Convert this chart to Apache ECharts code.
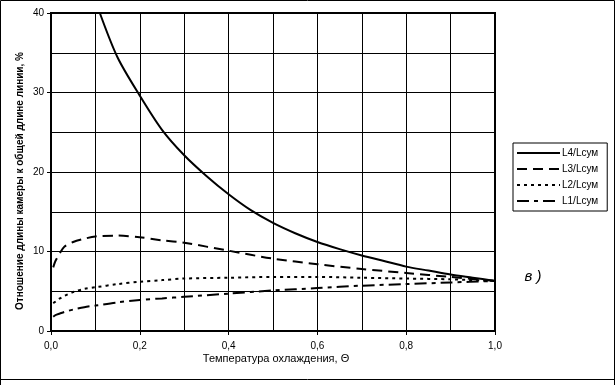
<!DOCTYPE html>
<html>
<head>
<meta charset="utf-8">
<script src="https://cdn.jsdelivr.net/npm/echarts@6/dist/echarts.min.js"></script>
<style>
html,body{margin:0;padding:0;background:#fff;}
#chart{width:616px;height:385px;}
</style>
</head>
<body>
<div id="chart"></div>
<script>
// ---- data ----
const seriesNames = ['L4/Lсум', 'L3/Lсум', 'L2/Lсум', 'L1/Lсум'];
const thetaL4 = [0.11, 0.15, 0.2, 0.25, 0.3, 0.35, 0.4, 0.45, 0.5, 0.55, 0.6, 0.65, 0.7, 0.75, 0.8, 0.85, 0.9, 0.95, 1.0];
const valuesL4 = [40, 34.4, 29.6, 25.3, 22.1, 19.5, 17.2, 15.2, 13.6, 12.3, 11.2, 10.3, 9.5, 8.8, 8.1, 7.6, 7.1, 6.7, 6.3];
const theta = [0.005, 0.01, 0.02, 0.03, 0.05, 0.075, 0.1, 0.15, 0.2, 0.25, 0.3, 0.4, 0.5, 0.6, 0.7, 0.8, 0.9, 1.0];
const valuesL3 = [8.0, 8.8, 9.8, 10.6, 11.2, 11.6, 11.9, 12.0, 11.8, 11.4, 11.1, 10.1, 9.1, 8.4, 7.8, 7.3, 6.8, 6.3];
const valuesL2 = [3.5, 3.7, 4.1, 4.4, 4.9, 5.3, 5.5, 5.9, 6.2, 6.4, 6.6, 6.7, 6.8, 6.8, 6.7, 6.6, 6.5, 6.3];
const valuesL1 = [1.8, 2.0, 2.2, 2.4, 2.7, 3.0, 3.2, 3.6, 3.9, 4.1, 4.3, 4.7, 5.1, 5.4, 5.7, 5.9, 6.1, 6.3];
const xTickLabels = ['0,0', '0,2', '0,4', '0,6', '0,8', '1,0'];
const yTickLabels = ['0', '10', '20', '30', '40'];
const xTitle = 'Температура охлаждения, Θ';
const yTitle = 'Отношение длины камеры к общей длине линии, %';
const panelLabel = 'в )';

const pairs = (xs, ys) => xs.map((x, i) => [x, ys[i]]);
const FONT = '"Liberation Sans", Arial, sans-serif';

const chart = echarts.init(document.getElementById('chart'), null, {renderer: 'canvas'});
const dashTypes = ['solid', [10, 6], [3, 4], [12, 5, 4, 5]];
const dataSets = [pairs(thetaL4, valuesL4), pairs(theta, valuesL3), pairs(theta, valuesL2), pairs(theta, valuesL1)];

chart.setOption({
  backgroundColor: '#fff',
  animation: false,
  grid: {left: 51, right: 121, top: 13, bottom: 54, show: true, borderColor: '#000', borderWidth: 2, containLabel: false},
  xAxis: {
    type: 'value', min: 0, max: 1, interval: 0.2,
    axisLine: {show: true, lineStyle: {color: '#000', width: 2}},
    axisTick: {show: true, inside: false, length: 4, lineStyle: {color: '#000', width: 1}},
    axisLabel: {color: '#000', fontFamily: FONT, fontSize: 10, margin: 10,
      formatter: v => xTickLabels[Math.round(v * 5)]},
    splitLine: {show: true, lineStyle: {color: '#000', width: 1}},
    minorTick: {show: false, splitNumber: 2},
    minorSplitLine: {show: true, lineStyle: {color: '#000', width: 1}}
  },
  yAxis: {
    type: 'value', min: 0, max: 40, interval: 10,
    axisLine: {show: true, lineStyle: {color: '#000', width: 2}},
    axisTick: {show: true, inside: false, length: 4, lineStyle: {color: '#000', width: 1}},
    axisLabel: {color: '#000', fontFamily: FONT, fontSize: 10, margin: 7,
      formatter: v => yTickLabels[Math.round(v / 10)]},
    splitLine: {show: true, lineStyle: {color: '#000', width: 1}},
    minorTick: {show: false, splitNumber: 2},
    minorSplitLine: {show: true, lineStyle: {color: '#000', width: 1}}
  },
  legend: {
    orient: 'vertical', left: 513, top: 143, align: 'left',
    itemWidth: 43, itemHeight: 10, itemGap: 6,
    padding: [5, 9, 5, 3],
    borderColor: '#000', borderWidth: 1,
    itemStyle: {opacity: 0},
    textStyle: {color: '#000', fontFamily: FONT, fontSize: 10, padding: [0, 0, 0, -3]},
    data: seriesNames
  },
  series: seriesNames.map((n, i) => ({
    name: n, type: 'line', data: dataSets[i], smooth: 0.3,
    showSymbol: false, symbol: 'none',
    lineStyle: {color: '#000', width: 2, type: dashTypes[i]},
    itemStyle: {color: '#000'},
    z: 5
  })),
  graphic: [
    {type: 'rect', shape: {x: 0.5, y: 0.5, width: 614, height: 379}, style: {fill: 'none', stroke: '#000', lineWidth: 1}, silent: true},
    {type: 'line', shape: {x1: 0.5, y1: 379, x2: 0.5, y2: 385}, style: {stroke: '#000', lineWidth: 1}},
    {type: 'line', shape: {x1: 614.5, y1: 379, x2: 614.5, y2: 385}, style: {stroke: '#000', lineWidth: 1}},
    {type: 'text', x: 20, y: 181, rotation: Math.PI / 2,
      style: {text: yTitle, font: 'bold 10px ' + FONT, fill: '#000', textAlign: 'center', textVerticalAlign: 'middle'}},
    {type: 'text', x: 276, y: 359,
      style: {text: xTitle, font: '11px ' + FONT, fill: '#000', textAlign: 'center', textVerticalAlign: 'middle'}},
    {type: 'text', x: 533, y: 277,
      style: {text: panelLabel, font: 'italic 15px ' + FONT, fill: '#000', textAlign: 'center', textVerticalAlign: 'middle'}}
  ]
});
</script>
</body>
</html>
